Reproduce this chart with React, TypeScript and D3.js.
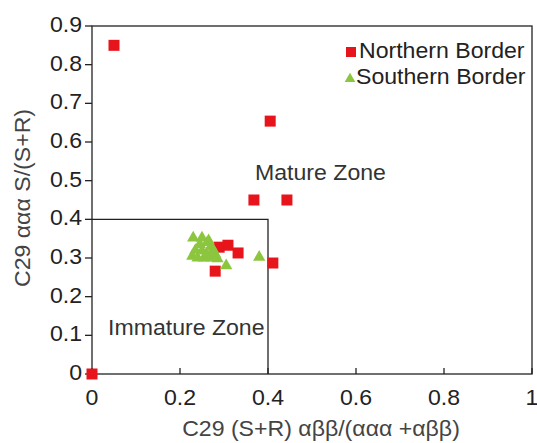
import React from "react";
import * as d3 from "d3";

// Northern Border samples
const northernX = [0, 0.05, 0.405, 0.368, 0.443, 0.411, 0.28, 0.309, 0.332, 0.289];
const northernY = [0, 0.85, 0.654, 0.45, 0.45, 0.287, 0.266, 0.333, 0.313, 0.328];

// Southern Border samples
const southernX = [0.23, 0.25, 0.265, 0.235, 0.24, 0.26, 0.27, 0.28, 0.255, 0.245, 0.27, 0.305, 0.38, 0.228, 0.285, 0.25, 0.262, 0.275];
const southernY = [0.352, 0.352, 0.345, 0.32, 0.30, 0.31, 0.33, 0.31, 0.30, 0.335, 0.30, 0.28, 0.302, 0.305, 0.298, 0.318, 0.34, 0.322];

const xTicks = [0, 0.2, 0.4, 0.6, 0.8, 1];
const yTicks = [0, 0.1, 0.2, 0.3, 0.4, 0.5, 0.6, 0.7, 0.8, 0.9];

const W = 537;
const H = 443;
const left = 92, right = 532, top = 26, bottom = 374;

const RED = "#e8141c";
const GREEN = "#8cc63f";
const FONT = "Liberation Sans, Arial, sans-serif";
const FS = 22;
const SX = 1.05;

function Label(props: {
  x: number;
  y: number;
  anchor?: "start" | "middle" | "end";
  fill?: string;
  rotate?: boolean;
  children: React.ReactNode;
}) {
  const { x, y, anchor = "start", fill = "#222", rotate = false, children } = props;
  const t = rotate
    ? `translate(${x},${y}) rotate(-90) scale(${SX},1)`
    : `translate(${x},${y}) scale(${SX},1)`;
  return (
    <text transform={t} textAnchor={anchor} fontSize={FS} fill={fill}>
      {children}
    </text>
  );
}

export default function App() {
  const x = d3.scaleLinear().domain([0, 1]).range([left, right]);
  const y = d3.scaleLinear().domain([0, 0.9]).range([bottom, top]);
  const tri = d3.symbol().type(d3.symbolTriangle).size(66)() as string;
  const sq = 11;
  const fmt = d3.format("~g");

  return (
    <svg width={W} height={H} style={{ position: "absolute", left: 0, top: 0 }} fontFamily={FONT}>
      <rect width={W} height={H} fill="#fff" />
      {/* frame */}
      <rect x={left} y={top} width={right - left} height={bottom - top} fill="none" stroke="#222" strokeWidth={1.3} />
      {/* immature zone boundary */}
      <path d={`M${x(0)},${y(0.4)}H${x(0.4)}V${y(0)}`} fill="none" stroke="#222" strokeWidth={1.3} />
      {/* y ticks */}
      {yTicks.map((t) => (
        <g key={"y" + t}>
          <line x1={left - 7} x2={left} y1={y(t)} y2={y(t)} stroke="#222" strokeWidth={1.3} />
          <Label x={left - 10} y={y(t) + 6} anchor="end">{fmt(t)}</Label>
        </g>
      ))}
      {/* x ticks */}
      {xTicks.map((t) => (
        <g key={"x" + t}>
          <line x1={x(t)} x2={x(t)} y1={bottom} y2={bottom - 6} stroke="#222" strokeWidth={1.3} />
          <Label x={x(t)} y={bottom + 31} anchor="middle">{fmt(t)}</Label>
        </g>
      ))}
      {/* axis titles */}
      <Label x={321} y={436} anchor="middle" fill="#444">C29 (S+R) αββ/(ααα +αββ)</Label>
      <Label x={30} y={198} anchor="middle" fill="#444" rotate>C29 ααα S/(S+R)</Label>
      {/* zone labels */}
      <Label x={255} y={180} fill="#333">Mature Zone</Label>
      <Label x={108} y={335} fill="#333">Immature Zone</Label>
      {/* northern squares */}
      {northernX.map((v, i) => (
        <rect
          key={"n" + i}
          x={x(v) - sq / 2}
          y={y(northernY[i]) - sq / 2}
          width={sq}
          height={sq}
          fill={RED}
        />
      ))}
      {/* southern triangles */}
      {southernX.map((v, i) => (
        <path key={"s" + i} d={tri} transform={`translate(${x(v)},${y(southernY[i])})`} fill={GREEN} />
      ))}
      {/* legend */}
      <rect x={346} y={47} width={10} height={10} fill={RED} />
      <Label x={359} y={58}>Northern Border</Label>
      <path d={d3.symbol().type(d3.symbolTriangle).size(50)() as string} transform="translate(350,79)" fill={GREEN} />
      <Label x={356} y={84}>Southern Border</Label>
    </svg>
  );
}
